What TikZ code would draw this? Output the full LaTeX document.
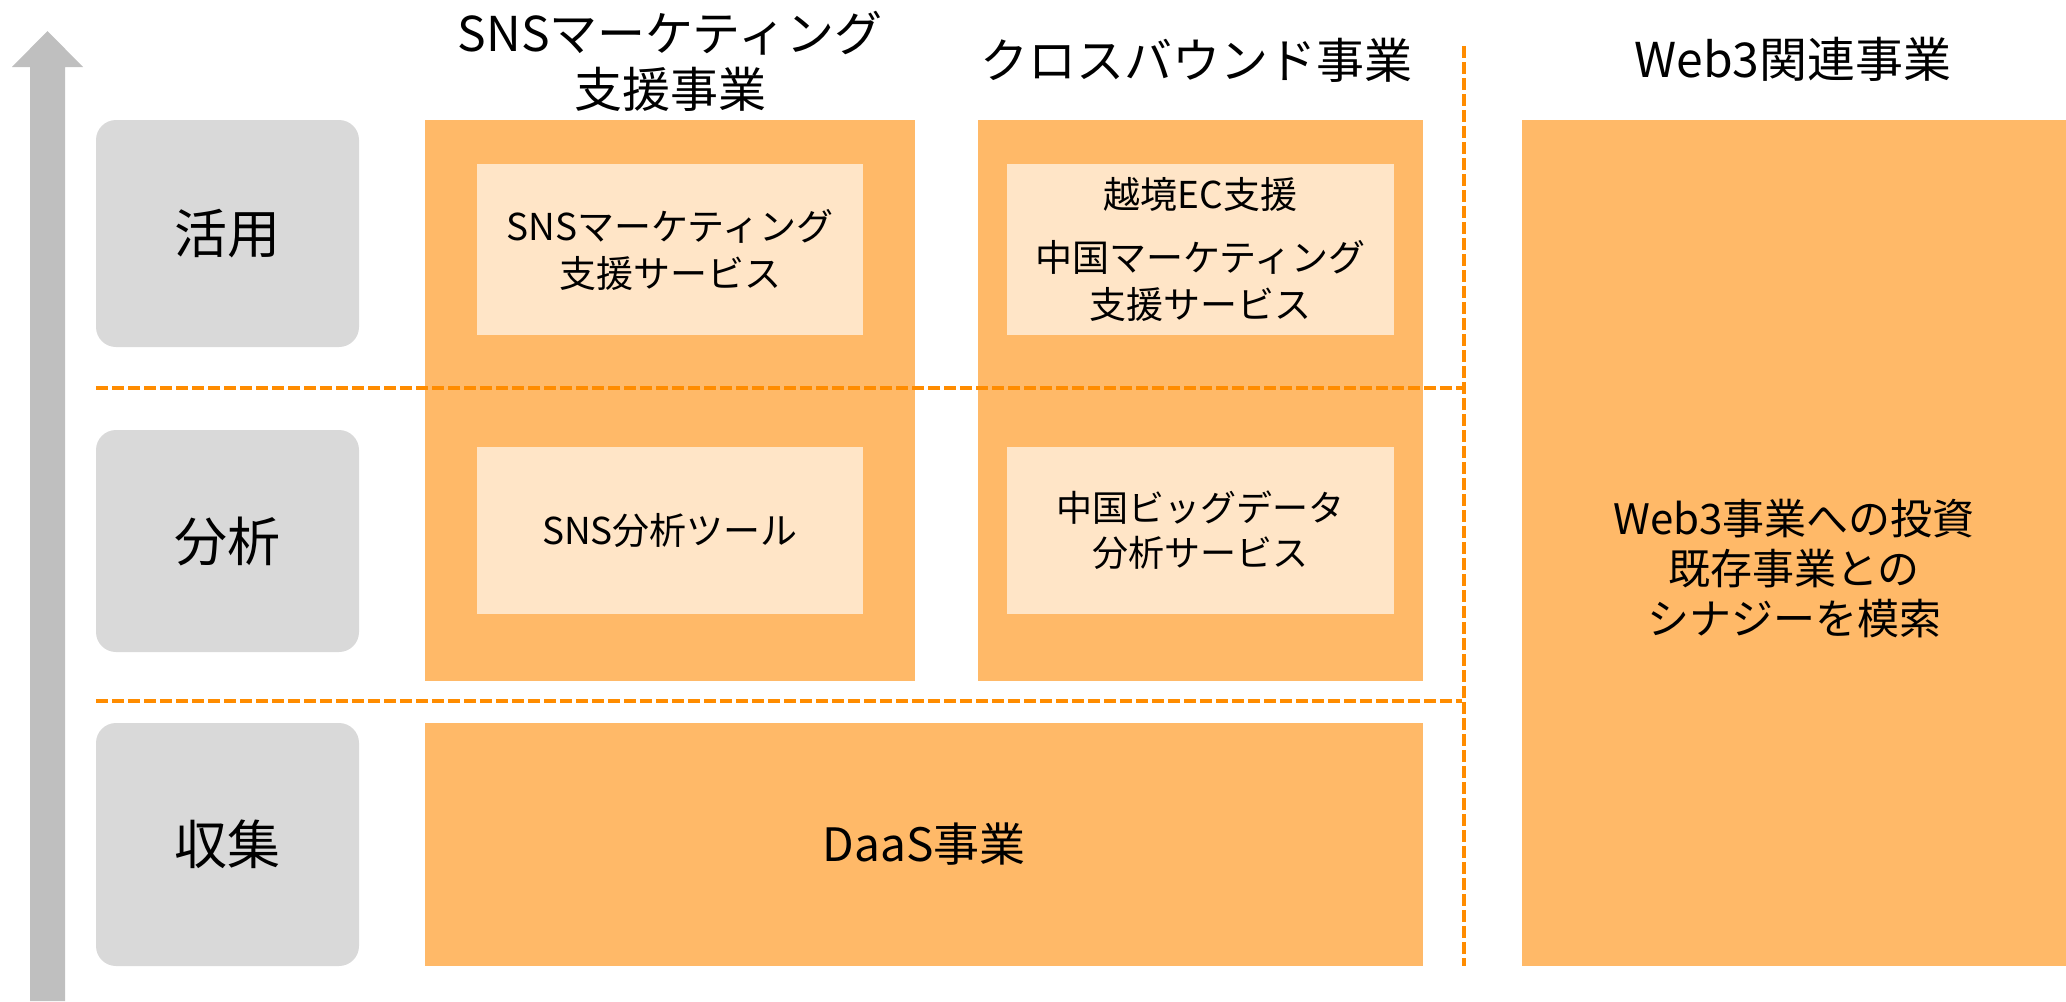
\documentclass[tikz,border=0pt]{standalone}
\usepackage{fontspec}
\setmainfont{Noto Sans CJK JP}
\definecolor{orcol}{HTML}{FFB968}
\definecolor{incol}{HTML}{FFE5C7}
\definecolor{graycol}{HTML}{D9D9D9}
\definecolor{arrowcol}{HTML}{BFBFBF}
\definecolor{dashcol}{HTML}{FF8C00}
\begin{document}
\begin{tikzpicture}[x=0.5pt,y=-0.5pt,
  graybox/.style={fill=graycol,rounded corners=10pt,inner sep=0pt,minimum width=131.5pt,font=\fontsize{26.5}{32}\selectfont},
  orbox/.style={fill=orcol,inner sep=0pt},
  inbox/.style={fill=incol,inner sep=0pt,align=center,font=\fontsize{18.5}{23.5}\selectfont},
  sepline/.style={draw=dashcol,line width=2pt,dash pattern=on 6pt off 2pt},
  hdr/.style={align=center,inner sep=0pt,font=\fontsize{24}{28}\selectfont}]
\useasboundingbox (0,0) rectangle (2066,1001);
% level arrow
\fill[arrowcol] (30,1001) -- (30,67) -- (12,67) -- (47.5,31) -- (83,67) -- (65,67) -- (65,1001) -- cycle;
% level boxes
\node[graybox,minimum height=113.5pt] (g1) at (227.5,233.5) {活用};
\node[graybox,minimum height=111pt] (g2) at (227.5,541) {分析};
\node[graybox,minimum height=121.5pt] (g3) at (227.5,844.5) {収集};
% headers
\node[hdr] (h1) at (670,61) {SNSマーケティング\\支援事業};
\node[hdr] (h2) at (1196,60) {クロスバウンド事業};
\node[hdr] (h3) at (1793,59) {Web3関連事業};
% business boxes
\node[orbox,minimum width=245pt,minimum height=280.5pt] (sns) at (670,400.5) {};
\node[orbox,minimum width=222.5pt,minimum height=280.5pt] (cross) at (1200.5,400.5) {};
\node[orbox,minimum width=499pt,minimum height=121.5pt,font=\fontsize{23}{27}\selectfont] (daas) at (924,844.5) {DaaS事業};
\node[orbox,minimum width=272pt,minimum height=423pt] (web3) at (1794,543) {};
\node[align=center,inner sep=0pt,font=\fontsize{21}{25}\selectfont] (web3t) at (1794,569) {Web3事業への投資\\既存事業との\\シナジーを模索};
% inner service boxes
\node[inbox,minimum width=193pt,minimum height=85.5pt] (snsA) at (670,249.5) {SNSマーケティング\\支援サービス};
\node[inbox,minimum width=193.5pt,minimum height=85.5pt] (crossA) at (1200.5,249.5) {越境EC支援\\[8pt]中国マーケティング\\支援サービス};
\node[inbox,minimum width=193pt,minimum height=83.5pt] (snsB) at (670,530.5) {SNS分析ツール};
\node[inbox,minimum width=193.5pt,minimum height=83.5pt,font=\fontsize{18}{22.5}\selectfont] (crossB) at (1200.5,530.5) {中国ビッグデータ\\分析サービス};
% separators
\coordinate (s1a) at (96,388);
\coordinate (s1b) at (1462,388);
\coordinate (s2a) at (96,701);
\coordinate (s2b) at (1462,701);
\coordinate (vt) at (1464,46);
\coordinate (vb) at (1464,966);
\draw[sepline] (s1a) -- (s1b);
\draw[sepline] (s2a) -- (s2b);
\draw[sepline] (vt) -- (vb);
\end{tikzpicture}
\end{document}
